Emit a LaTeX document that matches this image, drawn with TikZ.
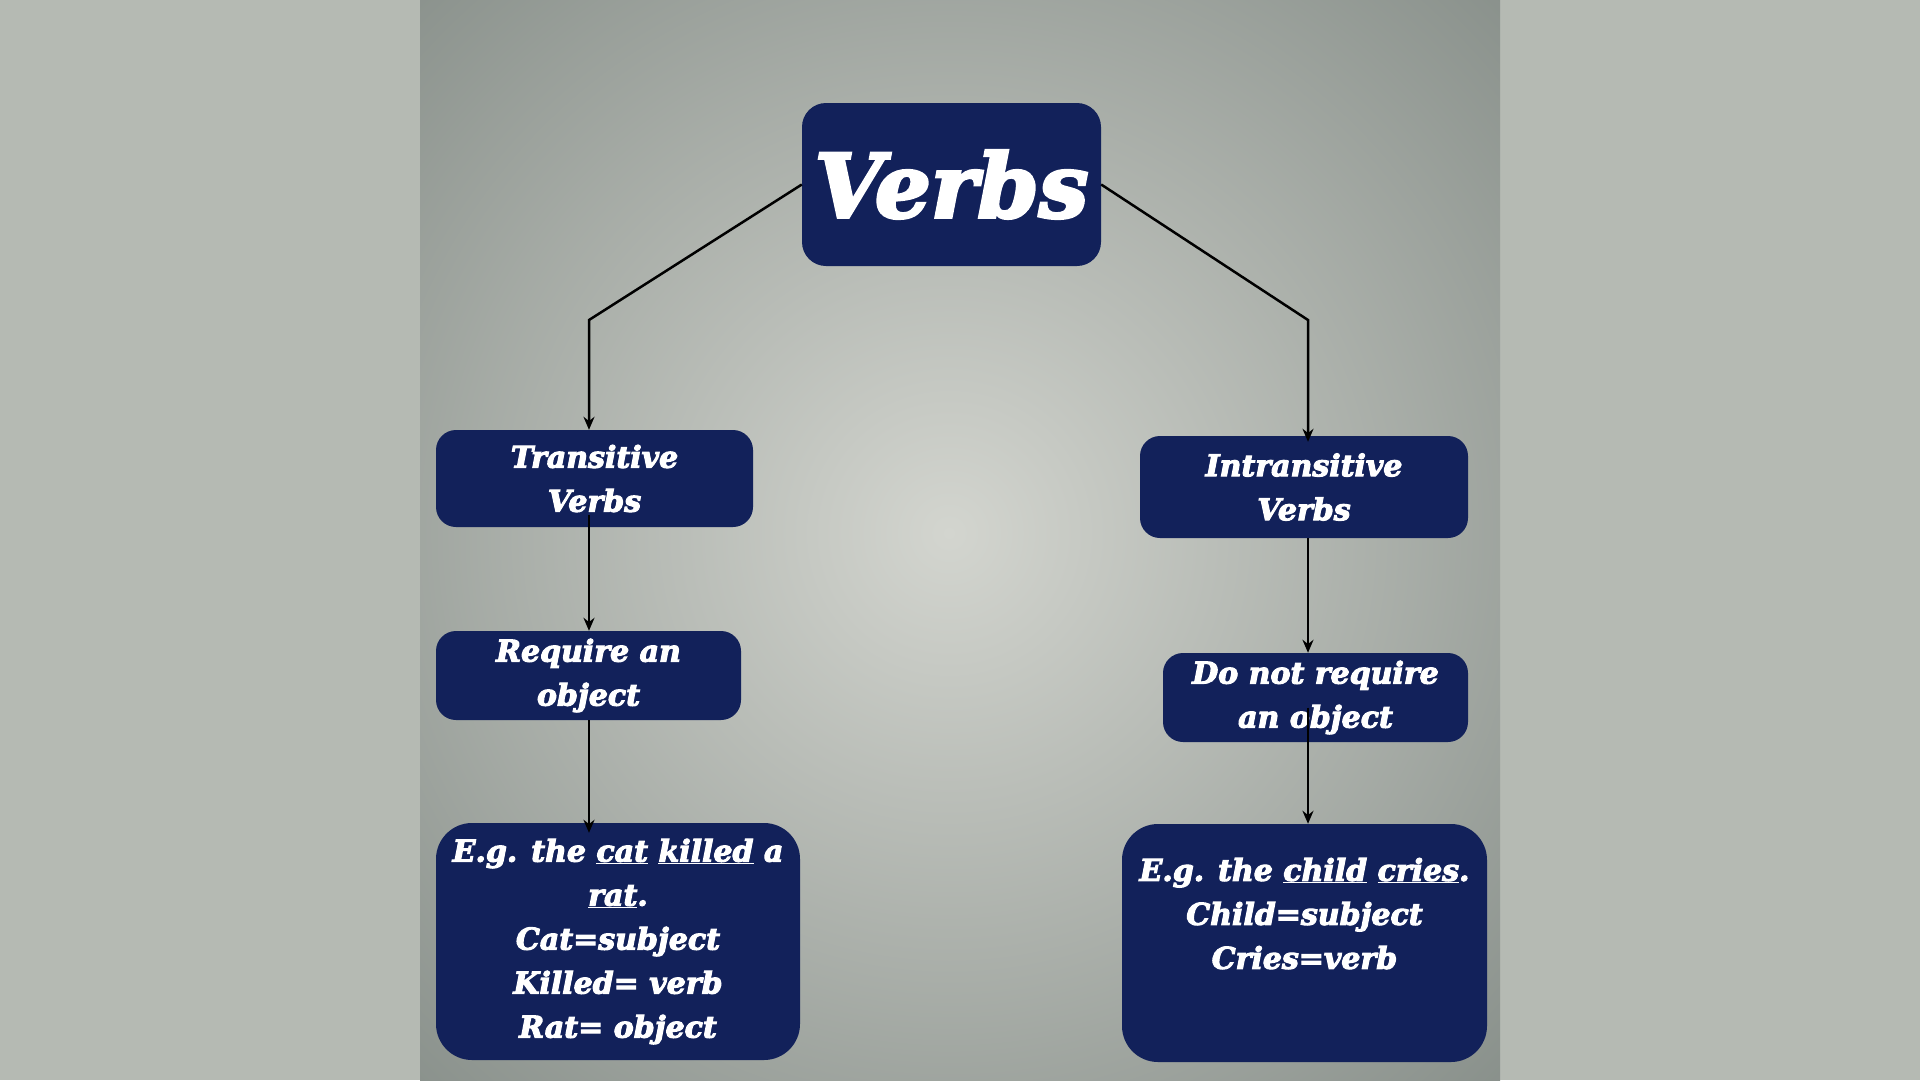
\documentclass[tikz,border=0pt]{standalone}
\usepackage{fontspec}
\setmainfont{DejaVu Serif}[BoldItalicFeatures={FakeBold=3.5}]
\usetikzlibrary{arrows.meta}
\definecolor{navy}{RGB}{18,33,90}
\definecolor{band}{RGB}{181,186,179}
\definecolor{glow}{RGB}{211,213,207}
\definecolor{shadow}{RGB}{102,112,107}
\tikzstyle{arrow} = [line width=2.5pt,-{Stealth[length=13pt,width=11pt]}]
\tikzstyle{box} = [rectangle, rounded corners=20pt, fill=navy, text=white, inner sep=0pt, align=center, font=\bfseries\itshape\fontsize{30}{44}\selectfont]

\begin{document}
\begin{tikzpicture}[x=1pt,y=-1pt]
\useasboundingbox (0,0) rectangle (1920,1080);
\fill [band] (0,0) rectangle (1920,1080);
\begin{scope}
\clip (420,0) rectangle (1500,1080);
\shade [inner color=glow, outer color=shadow] (949,533) circle (1150);
\end{scope}

\node (verbs) [box, rounded corners=24pt, minimum width=299, minimum height=163, font=\bfseries\itshape\fontsize{88}{100}\selectfont] at (951.5,184.5) {Verbs};
\node (trans) [box, minimum width=317, minimum height=97] at (594.5,478.5) {Transitive\\Verbs};
\node (intrans) [box, minimum width=328, minimum height=102] at (1304,487) {Intransitive\\Verbs};
\node (req) [box, minimum width=305, minimum height=89] at (588.5,675.5) {Require an\\object};
\node (notreq) [box, minimum width=305, minimum height=89] at (1315.5,697.5) {Do not require\\an object};
\node (egl) [box, rounded corners=36pt, minimum width=364, minimum height=237] at (618,941.5) {E.g. the \underline{cat} \underline{killed} a\\\underline{rat}.\\Cat=subject\\Killed= verb\\Rat= object};
\node (egr) [box, rounded corners=36pt, minimum width=365, minimum height=238] at (1304.5,943) {\parbox[c][170pt][t]{340pt}{\centering E.g. the \underline{child} \underline{cries}.\\Child=subject\\Cries=verb}};

\coordinate (lbend) at (589,320);
\coordinate (rbend) at (1308,320);

\draw [arrow] (verbs.west) -- (lbend) -- (lbend |- trans.north);
\draw [arrow] (verbs.east) -- (rbend) -- ([yshift=-6pt]rbend |- intrans.north);
\draw [arrow] ([yshift=12pt]lbend |- trans.south) -- (lbend |- req.north);
\draw [arrow] (lbend |- req.south) -- ([yshift=-10pt]lbend |- egl.north);
\draw [arrow] (rbend |- intrans.south) -- (rbend |- notreq.north);
\draw [arrow] ([yshift=-10pt]rbend |- notreq.center) -- (rbend |- egr.north);
\end{tikzpicture}
\end{document}
